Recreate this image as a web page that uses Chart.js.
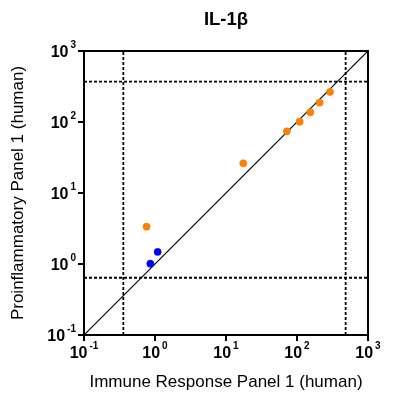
<!DOCTYPE html>
<html>
<head>
<meta charset="utf-8">
<script src="https://cdn.jsdelivr.net/npm/chart.js@4/dist/chart.umd.min.js"></script>
<style>
  html, body { margin: 0; padding: 0; background: #fff; }
  #wrap { width: 395px; height: 396px; }
</style>
</head>
<body>
<div id="wrap"><canvas id="il1bChart"></canvas></div>
<script>
// IL-1beta: Immune Response Panel 1 vs Proinflammatory Panel 1
const orangeX = [0.76, 17.5, 72, 109, 154, 208, 292];
const orangeY = [3.35, 26.2, 74, 101, 137, 187, 265];
const blueX = [1.09, 0.86];
const blueY = [1.48, 1.01];

const axisMin = 0.1;
const axisMax = 1000;
const tickValues = [0.1, 1, 10, 100, 1000];
const tickExponents = ['-1', '0', '1', '2', '3'];

// cut-off lines
const xLow = 0.358, xHigh = 484;
const yLow = 0.64, yHigh = 370;

const FONT = 'Liberation Sans, Arial, sans-serif';

const toPoints = (xs, ys) => xs.map((x, i) => ({ x: x, y: ys[i] }));

const dashed = {
    type: 'line', borderColor: '#000', borderWidth: 1.8, borderDash: [3, 2],
    pointRadius: 0, fill: false, order: 3
};

// frame round the plot area, the title and the 10^n tick labels
const decorations = {
    id: 'decorations',
    afterDraw(chart) {
        const a = chart.chartArea, ctx = chart.ctx;
        ctx.save();
        ctx.strokeStyle = '#000';
        ctx.lineWidth = 2;
        ctx.strokeRect(a.left, a.top, a.right - a.left, a.bottom - a.top);

        ctx.fillStyle = '#000';
        ctx.textBaseline = 'alphabetic';
        ctx.font = 'bold 18.5px ' + FONT;
        ctx.textAlign = 'center';
        ctx.fillText('IL-1β', (a.left + a.right) / 2, 25);

        const base = 'bold 16px ' + FONT, sup = 'bold 10px ' + FONT;
        const label = (text, exp, x, baseline, align) => {
            ctx.font = base;
            const w1 = ctx.measureText(text).width;
            ctx.font = sup;
            const w2 = ctx.measureText(exp).width;
            const gap = 2, total = w1 + gap + w2;
            const x0 = align === 'right' ? x - total : x - total / 2;
            ctx.textAlign = 'left';
            ctx.font = base;
            ctx.fillText(text, x0, baseline);
            ctx.font = sup;
            ctx.fillText(exp, x0 + w1 + gap, baseline - 8.8);
        };
        const xs = chart.scales.x, ys = chart.scales.y;
        tickValues.forEach((v, i) => {
            label('10', tickExponents[i], xs.getPixelForValue(v), a.bottom + 22.7, 'center');
            label('10', tickExponents[i], a.left - 8, ys.getPixelForValue(v) + 5.7, 'right');
        });
        ctx.restore();
    }
};

const logAxis = (title, isX) => ({
    type: 'logarithmic',
    min: axisMin,
    max: axisMax,
    afterBuildTicks: s => { s.ticks = tickValues.map(v => ({ value: v })); },
    afterFit: s => { if (isX) s.height = 61; else s.width = 84; },
    border: { color: '#000', width: 2 },
    grid: { drawOnChartArea: false, drawTicks: true, tickLength: 6, color: '#000', lineWidth: 2 },
    ticks: { display: false },
    title: {
        display: true,
        text: title,
        color: '#000',
        font: { family: FONT, size: 17 },
        padding: isX ? { top: 0, bottom: 3 } : { top: 8, bottom: 0 }
    }
});

new Chart(document.getElementById('il1bChart'), {
    type: 'scatter',
    data: {
        datasets: [
            {
                data: toPoints(orangeX, orangeY),
                backgroundColor: '#ff8000', borderColor: '#f07800', borderWidth: 0.5,
                pointRadius: 3.6, order: 1
            },
            {
                data: toPoints(blueX, blueY),
                backgroundColor: '#0000ff', borderColor: '#0000ee', borderWidth: 0.5,
                pointRadius: 3.6, order: 1
            },
            {
                type: 'line', data: [{ x: axisMin, y: axisMin }, { x: axisMax, y: axisMax }],
                borderColor: '#000', borderWidth: 1.2, pointRadius: 0, fill: false, order: 2
            },
            Object.assign({ data: [{ x: xLow, y: axisMin }, { x: xLow, y: axisMax }] }, dashed),
            Object.assign({ data: [{ x: xHigh, y: axisMin }, { x: xHigh, y: axisMax }] }, dashed),
            Object.assign({ data: [{ x: axisMin, y: yLow }, { x: axisMax, y: yLow }] }, dashed),
            Object.assign({ data: [{ x: axisMin, y: yHigh }, { x: axisMax, y: yHigh }] }, dashed)
        ]
    },
    options: {
        responsive: true,
        maintainAspectRatio: false,
        animation: false,
        layout: { padding: { left: 0, right: 27, top: 51, bottom: 0 } },
        plugins: {
            legend: { display: false },
            tooltip: { enabled: false },
            title: { display: false }
        },
        scales: {
            x: logAxis('Immune Response Panel 1 (human)', true),
            y: logAxis('Proinflammatory Panel 1 (human)', false)
        }
    },
    plugins: [decorations]
});
</script>
</body>
</html>
